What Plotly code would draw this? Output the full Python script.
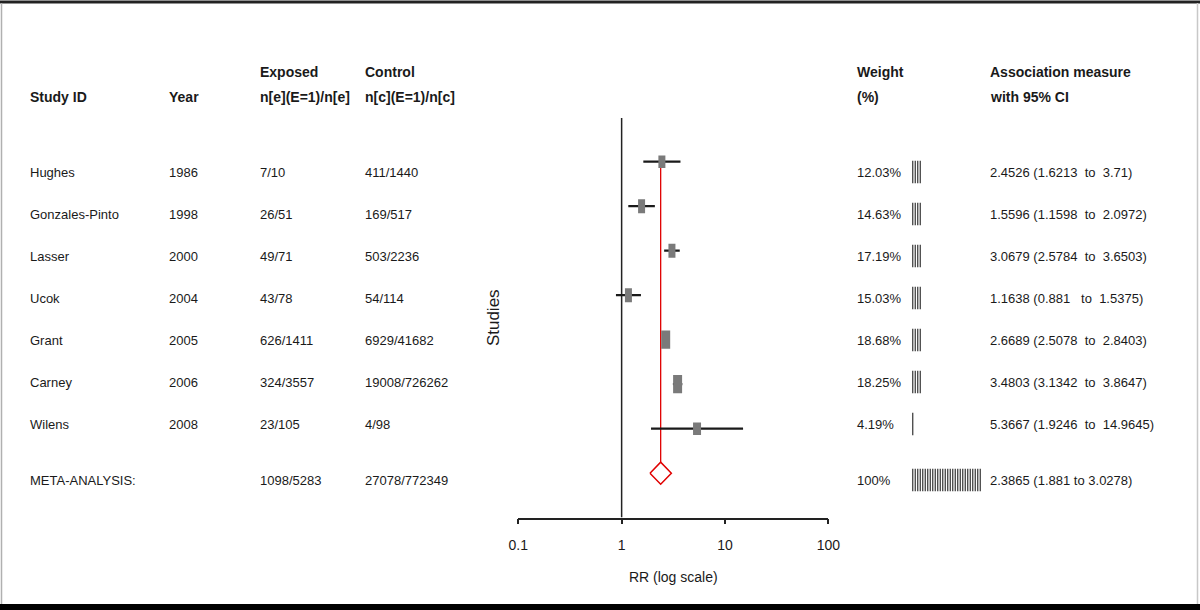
import plotly.graph_objects as go

# ---------------- data ----------------
studies = ["Hughes", "Gonzales-Pinto", "Lasser", "Ucok", "Grant", "Carney", "Wilens"]
years = ["1986", "1998", "2000", "2004", "2005", "2006", "2008"]
exposed = ["7/10", "26/51", "49/71", "43/78", "626/1411", "324/3557", "23/105"]
control = ["411/1440", "169/517", "503/2236", "54/114", "6929/41682", "19008/726262", "4/98"]
weights = [12.03, 14.63, 17.19, 15.03, 18.68, 18.25, 4.19]
rr = [2.4526, 1.5596, 3.0679, 1.1638, 2.6689, 3.4803, 5.3667]
ci_lo = [1.6213, 1.1598, 2.5784, 0.881, 2.5078, 3.1342, 1.9246]
ci_hi = [3.71, 2.0972, 3.6503, 1.5375, 2.8403, 3.8647, 14.9645]
weight_bar_counts = [4, 4, 4, 4, 4, 4, 1]

meta_label = "META-ANALYSIS:"
meta_exposed = "1098/5283"
meta_control = "27078/772349"
meta_weight = 100
meta_rr = 2.3865
meta_lo = 1.881
meta_hi = 3.0278
meta_bar_count = 28

x_ticks = [0.1, 1, 10, 100]
x_tick_labels = ["0.1", "1", "10", "100"]

headers_top = ["", "", "Exposed", "Control"]
headers_bottom = ["Study ID", "Year", "n[e](E=1)/n[e]", "n[c](E=1)/n[c]"]

# ---------------- layout constants ----------------
W, H = 1200, 610
FONT = "Liberation Sans, Arial, sans-serif"
FS = 13
FS_HEAD = 14
TXT = "#1a1a1a"
NB = "\u00a0"

px_left, px_right = 518.3, 828.3
px_top, px_bot = 118.0, 517.5
mk_first, mk_pitch = 161.7, 44.5
y_lo_val = (px_top - mk_first) / mk_pitch
y_hi_val = (px_bot - mk_first) / mk_pitch
meta_row = 7

tb_first, tb_pitch = 172.0, 42.0
meta_tb_row = (480.0 - tb_first) / tb_pitch

col_x = [29, 168, 259, 364]   # study, year, exposed, control
weight_x = 856
bars_x = 911.5
assoc_x = 989

box_w = [7, 7, 7, 7, 9, 9, 8]
box_h = [9, 10, 10, 10, 13, 13, 9]
diamond_half = 11.0 / mk_pitch

rows = list(range(len(studies)))

fig = go.Figure()

# reference line at RR = 1
fig.add_trace(go.Scatter(x=[1, 1], y=[y_lo_val, y_hi_val], mode="lines",
                         line=dict(color="#222222", width=1.5), hoverinfo="skip"))

# pooled estimate line
fig.add_trace(go.Scatter(x=[meta_rr, meta_rr], y=[0, meta_row - diamond_half], mode="lines",
                         line=dict(color="#e00000", width=1.3), hoverinfo="skip"))

# confidence intervals
cx, cy = [], []
for lo, hi, r in zip(ci_lo, ci_hi, rows):
    cx += [lo, hi, None]
    cy += [r, r, None]
fig.add_trace(go.Scatter(x=cx, y=cy, mode="lines",
                         line=dict(color="#1a1a1a", width=2.2), hoverinfo="skip"))

# study boxes (rectangles drawn as thick vertical line markers)
for i in rows:
    fig.add_trace(go.Scatter(x=[rr[i]], y=[i], mode="markers",
                             marker=dict(symbol="line-ns", size=box_h[i],
                                         line=dict(color="#7a7a7a", width=box_w[i])),
                             hoverinfo="skip"))

# pooled diamond
fig.add_trace(go.Scatter(
    x=[meta_lo, meta_rr, meta_hi, meta_rr, meta_lo],
    y=[meta_row, meta_row - diamond_half, meta_row, meta_row + diamond_half, meta_row],
    mode="lines", fill="toself", fillcolor="white",
    line=dict(color="#e00000", width=1.5), hoverinfo="skip"))

# weight bars
bx, by = [], []
for r, n in zip(rows, weight_bar_counts):
    bx += list(range(n))
    by += [r] * n
bx += list(range(meta_bar_count))
by += [meta_tb_row] * meta_bar_count
fig.add_trace(go.Scatter(x=bx, y=by, mode="markers", xaxis="x3", yaxis="y2",
                         marker=dict(symbol="line-ns", size=16,
                                     line=dict(color="#333333", width=1.2)),
                         hoverinfo="skip"))

# ---------------- text ----------------
ann = []


def ptx(px):
    return px / W


def pty(py):
    return 1 - py / H


def add_text(x_px, y, text, yref="paper", bold=False):
    ann.append(dict(x=ptx(x_px), y=y, xref="paper", yref=yref, text=text,
                    showarrow=False, xanchor="left", yanchor="middle", borderpad=0,
                    font=dict(family=FONT, size=FS_HEAD if bold else FS, color=TXT,
                              weight="bold" if bold else "normal")))


# headers
for cx_, t, b in zip(col_x, headers_top, headers_bottom):
    if t:
        add_text(cx_, pty(72), t, bold=True)
    add_text(cx_, pty(97), b, bold=True)
add_text(weight_x, pty(72), "Weight", bold=True)
add_text(weight_x, pty(97), "(%)", bold=True)
add_text(assoc_x, pty(72), "Association measure", bold=True)
add_text(assoc_x, pty(97), "with 95% CI", bold=True)


def assoc(est, lo, hi, gap):
    lo_s = str(lo)
    lo_s = lo_s + NB * max(0, 6 - len(lo_s))
    return f"{est}{NB}({lo_s}{gap}to{gap}{hi})"


for i in rows:
    add_text(col_x[0], i, studies[i], yref="y2")
    add_text(col_x[1], i, years[i], yref="y2")
    add_text(col_x[2], i, exposed[i], yref="y2")
    add_text(col_x[3], i, control[i], yref="y2")
    add_text(weight_x, i, f"{weights[i]}%", yref="y2")
    add_text(assoc_x, i, assoc(rr[i], ci_lo[i], ci_hi[i], NB * 2), yref="y2")

add_text(col_x[0], meta_tb_row, meta_label, yref="y2")
add_text(col_x[2], meta_tb_row, meta_exposed, yref="y2")
add_text(col_x[3], meta_tb_row, meta_control, yref="y2")
add_text(weight_x, meta_tb_row, f"{meta_weight}%", yref="y2")
add_text(assoc_x, meta_tb_row, f"{meta_rr}{NB}({meta_lo} to {meta_hi})", yref="y2")

# frame lines of the original picture
shapes = [
    dict(type="line", xref="paper", yref="paper", x0=0, x1=1, y0=pty(2), y1=pty(2),
         line=dict(color="#222222", width=3)),
    dict(type="rect", xref="paper", yref="paper", x0=0, x1=1, y0=0, y1=pty(604),
         fillcolor="#000000", line=dict(width=0)),
    dict(type="line", xref="paper", yref="paper", x0=ptx(1.5), x1=ptx(1.5), y0=pty(3), y1=pty(604),
         line=dict(color="#b0b0b0", width=1.5)),
    dict(type="line", xref="paper", yref="paper", x0=ptx(1197.5), x1=ptx(1197.5), y0=pty(3), y1=pty(604),
         line=dict(color="#c8c8c8", width=1.5)),
]

dom_x = [px_left / W, px_right / W]
dom_y = [1 - px_bot / H, 1 - px_top / H]

fig.update_layout(
    width=W, height=H,
    margin=dict(l=0, r=0, t=0, b=0, pad=0, autoexpand=False),
    paper_bgcolor="white", plot_bgcolor="white",
    showlegend=False,
    font=dict(family=FONT, size=FS, color=TXT),
    xaxis=dict(type="log", range=[-1, 2], domain=dom_x, anchor="y", automargin=False,
               tickvals=x_ticks, ticktext=x_tick_labels,
               showline=True, linecolor="#222222", linewidth=1.5,
               ticks="outside", ticklen=5, tickwidth=1.5, tickcolor="#222222",
               showgrid=False, zeroline=False, ticklabelstandoff=9,
               tickfont=dict(family=FONT, size=14, color=TXT),
               title=dict(text="RR (log scale)", standoff=20,
                          font=dict(family=FONT, size=14, color=TXT))),
    xaxis2=dict(type="log", range=[-1, 2], domain=dom_x, overlaying="x", anchor="y",
                automargin=False, side="bottom", tickvals=x_ticks, showticklabels=False,
                ticks="inside", ticklen=5, tickwidth=1.5, tickcolor="#222222",
                showline=False, showgrid=False, zeroline=False),
    yaxis=dict(range=[y_hi_val, y_lo_val], domain=dom_y, anchor="x", automargin=False,
               showticklabels=False, ticks="", showline=False, showgrid=False, zeroline=False,
               title=dict(text="Studies", standoff=13,
                          font=dict(family=FONT, size=17, color=TXT))),
    xaxis3=dict(range=[-0.5, 39.5], domain=[bars_x / W, (bars_x + 100) / W], anchor="y2",
                automargin=False, visible=False),
    yaxis2=dict(range=[(H - tb_first) / tb_pitch, -tb_first / tb_pitch], domain=[0, 1],
                anchor="x3", automargin=False, visible=False),
    annotations=ann,
    shapes=shapes,
)

page_css = ("document.body.style.margin='0';document.body.style.padding='0';"
            "document.body.style.overflow='hidden';"
            "document.documentElement.style.overflow='hidden';")

fig.write_html("out.html", post_script=page_css, config={"displayModeBar": False})
